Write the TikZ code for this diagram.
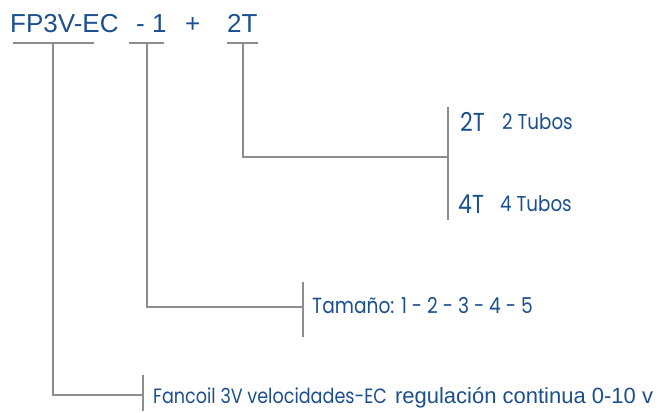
\documentclass[tikz,border=0pt]{standalone}
\usepackage{fontspec}
\setmainfont{Liberation Sans}
\newfontfamily\geofont[FakeStretch=0.85]{Poppins}
\usepackage{xcolor}
\usetikzlibrary{calc}
\definecolor{codeblue}{HTML}{1B4F8F}
\definecolor{linegray}{HTML}{8C8C8C}

\begin{document}
\begin{tikzpicture}[x=1pt,y=-1pt,
	txt/.style={anchor=base west,inner sep=0pt,text=codeblue},
	wire/.style={draw=linegray,line width=2.4pt}]
	\useasboundingbox (0,0) rectangle (666,412);
	
	% codigo
	\node[txt,font=\fontsize{26}{26}\selectfont] (fp) at (10,33) {FP3V-EC};
	\node[txt,font=\fontsize{26}{26}\selectfont] (sz) at (136,33) {- 1};
	\node[txt,font=\fontsize{26}{26}\selectfont] (plus) at (185,33) {+};
	\node[txt,font=\fontsize{26}{26}\selectfont] (tb) at (227,33) {2T};
	
	% tubos
	\node[txt,font=\geofont\fontsize{26}{26}\selectfont] (t2) at (460,131) {2T};
	\node[txt,font=\geofont\fontsize{21.5}{21.5}\selectfont] (t2l) at (502,129) {2 Tubos};
	\node[txt,font=\geofont\fontsize{26}{26}\selectfont] (t4) at (458,213) {4T};
	\node[txt,font=\geofont\fontsize{21.5}{21.5}\selectfont] (t4l) at (500,211) {4 Tubos};
	
	% tamano
	\node[txt,font=\geofont\fontsize{21.9}{21.9}\selectfont] (szl) at (312,313) {Tamaño: 1 - 2 - 3 - 4 - 5};
	
	% fancoil
	\node[txt,font=\geofont\fontsize{20.7}{20.7}\selectfont] (fpl) at (153,403)
		{Fancoil 3V velocidades-EC\fontspec{Liberation Sans}\fontsize{22}{22}\selectfont{} \hspace{2pt}regulación continua 0-10 v};
	
	\coordinate (A1) at (13,43);
	\coordinate (A2) at (94,43);
	\coordinate (A3) at (53,43);
	\coordinate (A4) at (53,395);
	\coordinate (A5) at (143,395);
	\coordinate (A6) at (143,375);
	\coordinate (A7) at (143,411);
	
	\coordinate (B1) at (129,43);
	\coordinate (B2) at (164,43);
	\coordinate (B3) at (147,43);
	\coordinate (B4) at (147,307);
	\coordinate (B5) at (303,307);
	\coordinate (B6) at (303,282);
	\coordinate (B7) at (303,337);
	
	\coordinate (C1) at (227,43);
	\coordinate (C2) at (258,43);
	\coordinate (C3) at (243,43);
	\coordinate (C4) at (243,157);
	\coordinate (C5) at (448,157);
	\coordinate (C6) at (448,107);
	\coordinate (C7) at (448,220);
	
	\draw[wire] (A1) -- (A2);
	\draw[wire] (A3) -- (A4) -- (A5);
	\draw[wire] (A6) -- (A7);
	
	\draw[wire] (B1) -- (B2);
	\draw[wire] (B3) -- (B4) -- (B5);
	\draw[wire] (B6) -- (B7);
	
	\draw[wire] (C1) -- (C2);
	\draw[wire] (C3) -- (C4) -- (C5);
	\draw[wire] (C6) -- (C7);
\end{tikzpicture}
\end{document}
